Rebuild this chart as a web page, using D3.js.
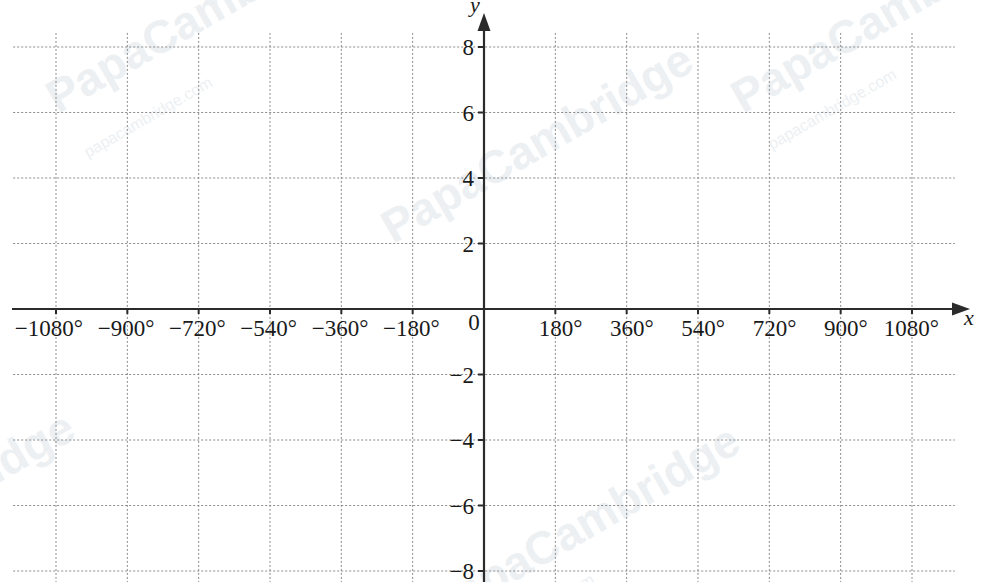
<!DOCTYPE html>
<html>
<head>
    <meta charset="utf-8">
    <title>Trig axes</title>
    <script src="https://d3js.org/d3.v7.min.js"></script>
    <style>
        body { margin: 0; background: #fff; }
        .lbl { font-family: "Liberation Serif", "DejaVu Serif", serif; fill: #1a1a1a; }
        .wm { font-family: "Liberation Sans", Arial, sans-serif; fill: #ecf0f3; }
    </style>
</head>
<body>
    <div id="chart"></div>
    <script>
        // tick values and labels
        var xTicks = [-1080, -900, -720, -540, -360, -180, 180, 360, 540, 720, 900, 1080];
        var xLabels = ["\u22121080°", "\u2212900°", "\u2212720°", "\u2212540°", "\u2212360°", "\u2212180°",
                       "180°", "360°", "540°", "720°", "900°", "1080°"];
        var yTicks = [8, 6, 4, 2, -2, -4, -6, -8];
        var yLabels = ["8", "6", "4", "2", "\u22122", "\u22124", "\u22126", "\u22128"];

        // watermark text
        var marks = ["PapaCambridge", "papacambridge.com"];

        var width = 983, height = 582;

        var svg = d3.select("#chart").append("svg")
            .attr("width", width)
            .attr("height", height);

        var x = d3.scaleLinear().domain([-1080, 1080]).range([56, 912]);
        var y = d3.scaleLinear().domain([-8, 8]).range([571, 47]);

        // faint watermarks first, under everything
        var wm = svg.append("g");

        var bigSpots = [[58, 114], [743, 114], [393, 244], [-225, 612], [440, 625]];
        bigSpots.forEach(function (p) {
            wm.append("text")
                .attr("class", "wm")
                .attr("transform", "translate(" + p[0] + "," + p[1] + ") rotate(-30)")
                .attr("font-size", 46)
                .attr("font-weight", "bold")
                .text(marks[0]);
        });
        var smallSpots = [[88, 158], [772, 150], [470, 655]];
        smallSpots.forEach(function (p) {
            wm.append("text")
                .attr("class", "wm")
                .attr("transform", "translate(" + p[0] + "," + p[1] + ") rotate(-30)")
                .attr("font-size", 16)
                .text(marks[1]);
        });

        // grid
        var grid = svg.append("g")
            .attr("stroke", "#8a8a8a")
            .attr("stroke-width", 1)
            .attr("stroke-dasharray", "2,2");

        grid.selectAll("line.v")
            .data(xTicks)
            .enter().append("line")
            .attr("class", "v")
            .attr("x1", function (d) { return x(d); })
            .attr("x2", function (d) { return x(d); })
            .attr("y1", y(8.43))
            .attr("y2", height);

        grid.selectAll("line.h")
            .data(yTicks)
            .enter().append("line")
            .attr("class", "h")
            .attr("x1", x(-1188))
            .attr("x2", x(1188))
            .attr("y1", function (d) { return y(d); })
            .attr("y2", function (d) { return y(d); });

        // axes
        var axisColor = "#2b2b2b";
        var x0 = x(0), y0 = y(0);

        svg.append("line")
            .attr("x1", 12).attr("x2", 958)
            .attr("y1", y0).attr("y2", y0)
            .attr("stroke", axisColor).attr("stroke-width", 2.2);
        svg.append("path")
            .attr("d", "M" + 970 + "," + y0 + "L" + 952 + "," + (y0 - 6.5) + "L" + 952 + "," + (y0 + 6.5) + "Z")
            .attr("fill", axisColor);

        svg.append("line")
            .attr("x1", x0).attr("x2", x0)
            .attr("y1", height).attr("y2", 28)
            .attr("stroke", axisColor).attr("stroke-width", 2.2);
        svg.append("path")
            .attr("d", "M" + x0 + "," + 13 + "L" + (x0 - 6.5) + "," + 31 + "L" + (x0 + 6.5) + "," + 31 + "Z")
            .attr("fill", axisColor);

        // tick marks
        svg.selectAll("line.xt")
            .data(xTicks)
            .enter().append("line")
            .attr("class", "xt")
            .attr("x1", function (d) { return x(d); })
            .attr("x2", function (d) { return x(d); })
            .attr("y1", y0).attr("y2", y0 + 5)
            .attr("stroke", axisColor).attr("stroke-width", 2);

        svg.selectAll("line.yt")
            .data(yTicks)
            .enter().append("line")
            .attr("class", "yt")
            .attr("x1", x0 - 6).attr("x2", x0)
            .attr("y1", function (d) { return y(d); })
            .attr("y2", function (d) { return y(d); })
            .attr("stroke", axisColor).attr("stroke-width", 2);

        // tick labels
        svg.selectAll("text.xl")
            .data(xTicks)
            .enter().append("text")
            .attr("class", "lbl xl")
            .attr("x", function (d) { return x(d) + 27; })
            .attr("y", y0 + 27)
            .attr("text-anchor", "end")
            .attr("font-size", 23)
            .text(function (d, i) { return xLabels[i]; });

        svg.selectAll("text.yl")
            .data(yTicks)
            .enter().append("text")
            .attr("class", "lbl yl")
            .attr("x", x0 - 10)
            .attr("y", function (d) { return y(d) + 8; })
            .attr("text-anchor", "end")
            .attr("font-size", 23)
            .text(function (d, i) { return yLabels[i]; });

        svg.append("text")
            .attr("class", "lbl")
            .attr("x", 474).attr("y", y0 + 21)
            .attr("text-anchor", "middle")
            .attr("font-size", 23)
            .text("0");

        // axis names
        svg.append("text")
            .attr("class", "lbl")
            .attr("x", 475).attr("y", 12)
            .attr("text-anchor", "middle")
            .attr("font-size", 22)
            .attr("font-style", "italic")
            .text("y");

        svg.append("text")
            .attr("class", "lbl")
            .attr("x", 969).attr("y", 325)
            .attr("text-anchor", "middle")
            .attr("font-size", 22)
            .attr("font-style", "italic")
            .text("x");
    </script>
</body>
</html>
